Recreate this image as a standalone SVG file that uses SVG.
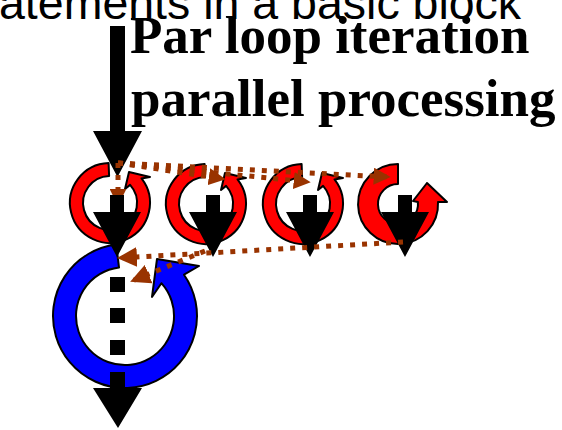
<svg xmlns="http://www.w3.org/2000/svg" width="562" height="430" viewBox="0 0 562 430">
  <style>
    .caption { font-family: "Liberation Sans", Arial, sans-serif; font-size: 46.5px; fill: #000; }
    .label { font-family: "Liberation Serif", "Times New Roman", serif; font-size: 53px; font-weight: bold; fill: #000; }
    .red-loop { fill: #ff0000; stroke: #000; stroke-width: 2; stroke-linejoin: round; }
    .blue-loop { fill: #0000ff; stroke: #000; stroke-width: 2; stroke-linejoin: round; }
    .flow { fill: #000; }
    .dep { fill: none; stroke: #993300; stroke-width: 5; stroke-dasharray: 5 7; }
  </style>
  <defs>
    <!-- circular arrow used for each parallel iteration -->
    <path id="iter-loop" d="M-1.4,-40 A40,40 0 1 0 31.5,-24.6 L40,-26 L19,-31 L15,-14 L20.1,-18.1 A27,27 0 1 1 -0.9,-27 Z"/>
    <!-- short down arrow drawn through each iteration -->
    <path id="step-arrow" d="M-7,195 H7 V212 H24 L0,257 L-24,212 H-7 Z"/>
    <marker id="dep-head" viewBox="0 0 10 10" refX="9" refY="5" markerWidth="3.4" markerHeight="3.4" orient="auto" markerUnits="strokeWidth">
      <path d="M0,0 L10,5 L0,10 Z" fill="#993300"/>
    </marker>
    <marker id="join-head" viewBox="0 0 10 10" refX="9" refY="5" markerWidth="4" markerHeight="4" orient="auto" markerUnits="strokeWidth">
      <path d="M0,0 L10,5 L0,10 Z" fill="#993300"/>
    </marker>
  </defs>

  <text class="caption" x="-1" y="19">atements in a basic block</text>
  <text class="label" x="130" y="53">Par loop iteration</text>
  <text class="label" x="131" y="116">parallel processing</text>

  <!-- incoming statement flow -->
  <g id="entry-arrow">
    <path class="flow" d="M110,26 H125 V131 H142 L117.5,177 L93,131 H110 Z"/>
  </g>

  <!-- enclosing sequential loop -->
  <g id="outer-loop">
    <path class="blue-loop" d="M116.2,244.5 A72,72 0 1 0 184.0,274.7 L199,266 L157,259 L152,297 L161.4,283.2 A49,49 0 1 1 119.0,267.4 Z"/>
  </g>

  <g id="iter-1"><use href="#iter-loop" class="red-loop" transform="translate(110,203)"/></g>
  <g id="iter-2"><use href="#iter-loop" class="red-loop" transform="translate(206,204)"/></g>
  <g id="iter-3"><use href="#iter-loop" class="red-loop" transform="translate(303,204)"/></g>
  <g id="iter-4">
    <path class="red-loop" transform="translate(398,204)" d="M0,-40 A40,40 0 1 0 40,-2 L49,-2 L29,-21 L15,-3 L19.9,-2 A20,20 0 1 1 0,-20 Z"/>
  </g>

  <!-- fork into the first iteration (tucked under its arrow) -->
  <g id="connectors-under">
    <line class="dep" x1="118" y1="163" x2="118" y2="204" marker-end="url(#dep-head)"/>
  </g>

  <g id="steps">
    <use href="#step-arrow" class="flow" transform="translate(117,0)"/>
    <use href="#step-arrow" class="flow" transform="translate(213,0)"/>
    <use href="#step-arrow" class="flow" transform="translate(310,0)"/>
    <use href="#step-arrow" class="flow" transform="translate(405,0)"/>
  </g>

  <!-- dotted flow out of the outer loop -->
  <g id="exit-arrow">
    <rect class="flow" x="110" y="277" width="15" height="15"/>
    <rect class="flow" x="110" y="308" width="15" height="15"/>
    <rect class="flow" x="110" y="340" width="15" height="15"/>
    <path class="flow" d="M110,372 H125 V388 H142 L118,428 L93,388 H110 Z"/>
  </g>

  <!-- fork and join dependencies -->
  <g id="connectors">
    <line class="dep" x1="118" y1="163" x2="224" y2="179" marker-end="url(#dep-head)"/>
    <line class="dep" x1="118" y1="163" x2="309" y2="182" marker-end="url(#dep-head)"/>
    <line class="dep" x1="118" y1="163" x2="389" y2="177" marker-end="url(#dep-head)"/>
    <line class="dep" x1="403" y1="242" x2="119" y2="258" marker-end="url(#join-head)"/>
    <line class="dep" x1="205" y1="251" x2="132" y2="281" marker-end="url(#join-head)"/>
  </g>
</svg>
